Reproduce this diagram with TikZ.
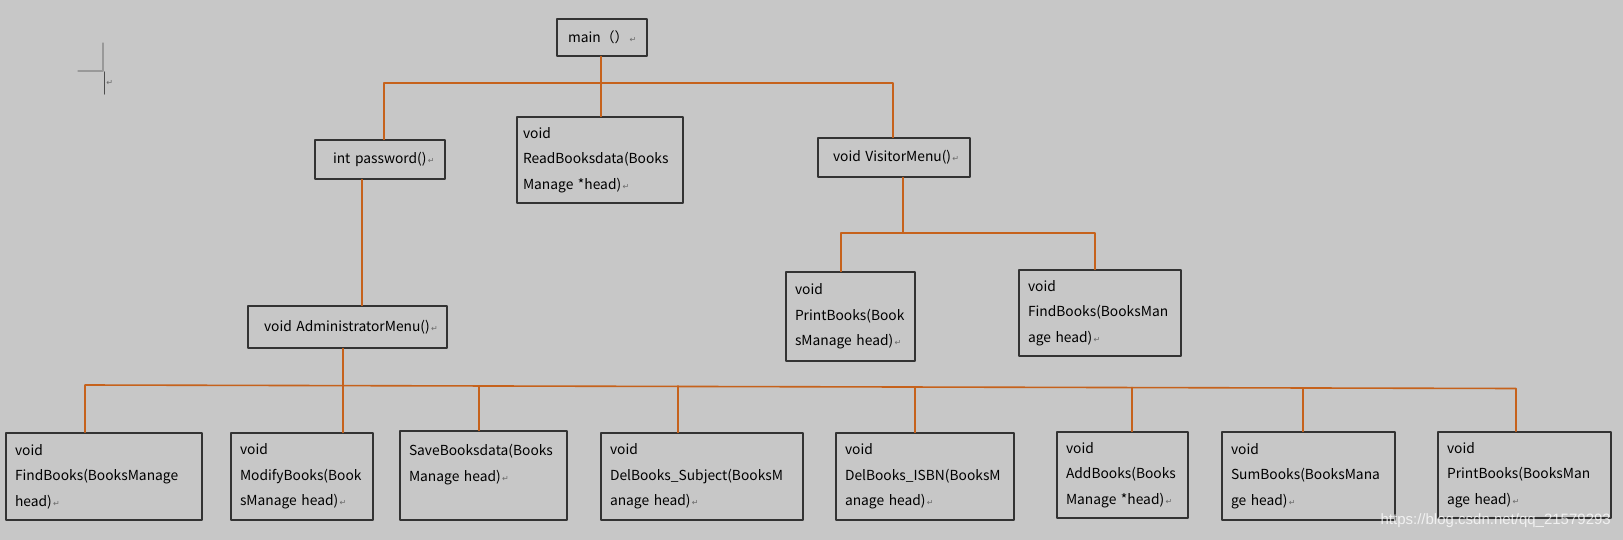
\documentclass[tikz,border=0pt]{standalone}
\usepackage{fontspec}
\setmainfont{Noto Sans CJK SC}
\newfontfamily\retfont{DejaVu Sans}
\newfontfamily\wmfont{Liberation Sans}
\definecolor{bggray}{RGB}{199,199,199}
\definecolor{linkorange}{RGB}{198,98,28}
\definecolor{retgray}{RGB}{105,105,105}
\newcommand{\ret}{{\retfont\color{retgray}\fontsize{8}{8}\selectfont\,↵}}

\begin{document}
\begin{tikzpicture}[line cap=round,line join=round,x=1pt,y=-1pt,
	box/.style={draw=black!80,line width=1.2pt,align=left,inner xsep=9pt,inner ysep=0pt,
		font=\fontsize{13.8}{25.5}\selectfont,execute at begin node={\hyphenpenalty=10000\exhyphenpenalty=10000}},
	link/.style={draw=linkorange,line width=1.6pt}]
	\fill[bggray] (0,0) rectangle (1623,540);
	% top level
	\node[box,text width=68pt,inner xsep=11pt,minimum height=37pt] (main) at (602,37.5) {\mbox{main（）\ret}};
	\node[box,text width=94pt,inner xsep=18pt,minimum height=39pt] (password) at (380,159.5) {\mbox{int password()\ret}};
	\node[box,text width=154pt,inner xsep=6pt,minimum height=86pt] (readdata) at (600,160) {void\\ReadBooksdata(Books\\Manage *head)\ret};
	\node[box,text width=122pt,inner xsep=15pt,minimum height=39pt] (visitor) at (894,157.5) {\mbox{void VisitorMenu()\ret}};
	\node[box,text width=167pt,inner xsep=16pt,minimum height=42pt] (admin) at (347.5,327) {\mbox{void AdministratorMenu()\ret}};
	% visitor menu
	\node[box,text width=111pt,minimum height=89pt] (vprint) at (850.5,316.5) {void\\PrintBooks(Book\\sManage head)\ret};
	\node[box,text width=144pt,minimum height=86pt] (vfind) at (1100,313) {void\\FindBooks(BooksMan\\age head)\ret};
	% administrator menu
	\node[box,text width=178pt,minimum height=87pt] (afind) at (104,476.5) {void\\FindBooks(BooksManage\\head)\ret};
	\node[box,text width=124pt,minimum height=87pt] (amodify) at (302,476.5) {void\\ModifyBooks(Book\\sManage head)\ret};
	\node[box,text width=149pt,minimum height=89pt] (asave) at (483.5,475.5) {SaveBooksdata(Books\\Manage head)\ret\\~};
	\node[box,text width=184pt,minimum height=87pt] (asubject) at (702,476.5) {void\\DelBooks\_Subject(BooksM\\anage head)\ret};
	\node[box,text width=160pt,minimum height=87pt] (aisbn) at (925,476.5) {void\\DelBooks\_ISBN(BooksM\\anage head)\ret};
	\node[box,text width=113pt,minimum height=86pt] (aadd) at (1122.5,475) {void\\AddBooks(Books\\Manage *head)\ret};
	\node[box,text width=155pt,minimum height=88pt] (asum) at (1308.5,476) {void\\SumBooks(BooksMana\\ge head)\ret};
	\node[box,text width=155pt,minimum height=86pt] (aprint) at (1524.5,475) {void\\PrintBooks(BooksMan\\age head)\ret};
	% junctions
	\coordinate (t1) at (384,83);
	\coordinate (t2) at (601,83);
	\coordinate (t3) at (893,83);
	\coordinate (p1) at (362,200);
	\coordinate (v0) at (903,233);
	\coordinate (v1) at (841,233);
	\coordinate (v2) at (1095,233);
	\coordinate (b0) at (343,385);
	\coordinate (b1) at (85,385);
	\coordinate (b2) at (343,385.5);
	\coordinate (b3) at (479,386);
	\coordinate (b4) at (678,386);
	\coordinate (b5) at (915,387);
	\coordinate (b6) at (1132,387.5);
	\coordinate (b7) at (1303,388);
	\coordinate (b8) at (1516,388.5);
	% connectors
	\draw[link] (t2 |- main.south) -- (t2);
	\draw[link] (t1 |- password.north) -- (t1) -- (t3) -- (t3 |- visitor.north);
	\draw[link] (t2) -- (t2 |- readdata.north);
	\draw[link] (p1 |- password.south) -- (p1 |- admin.north);
	\draw[link] (v0 |- visitor.south) -- (v0);
	\draw[link] (v1 |- vprint.north) -- (v1) -- (v2) -- (v2 |- vfind.north);
	\draw[link] (b0 |- admin.south) -- (b0);
	\draw[link] (b1 |- afind.north) -- (b1) -- (b8) -- (b8 |- aprint.north);
	\draw[link] (b2) -- (b2 |- amodify.north);
	\draw[link] (b3) -- (b3 |- asave.north);
	\draw[link] (b4) -- (b4 |- asubject.north);
	\draw[link] (b5) -- (b5 |- aisbn.north);
	\draw[link] (b6) -- (b6 |- aadd.north);
	\draw[link] (b7) -- (b7 |- asum.north);
	% page corner mark
	\draw[line width=1.2pt,color=black!40] (78,71) -- (103,71) -- (103,43);
	\draw[line width=1.2pt,color=black!70] (104.5,72) -- (104.5,94);
	\node[inner sep=0pt] (cornerret) at (109,83) {\ret};
	% watermark
	\node[inner sep=0pt,anchor=east,text=white,opacity=0.75,font=\wmfont\fontsize{15}{15}\selectfont] (mark) at (1611,521) {https://blog.csdn.net/qq\_21579293};
\end{tikzpicture}
\end{document}
